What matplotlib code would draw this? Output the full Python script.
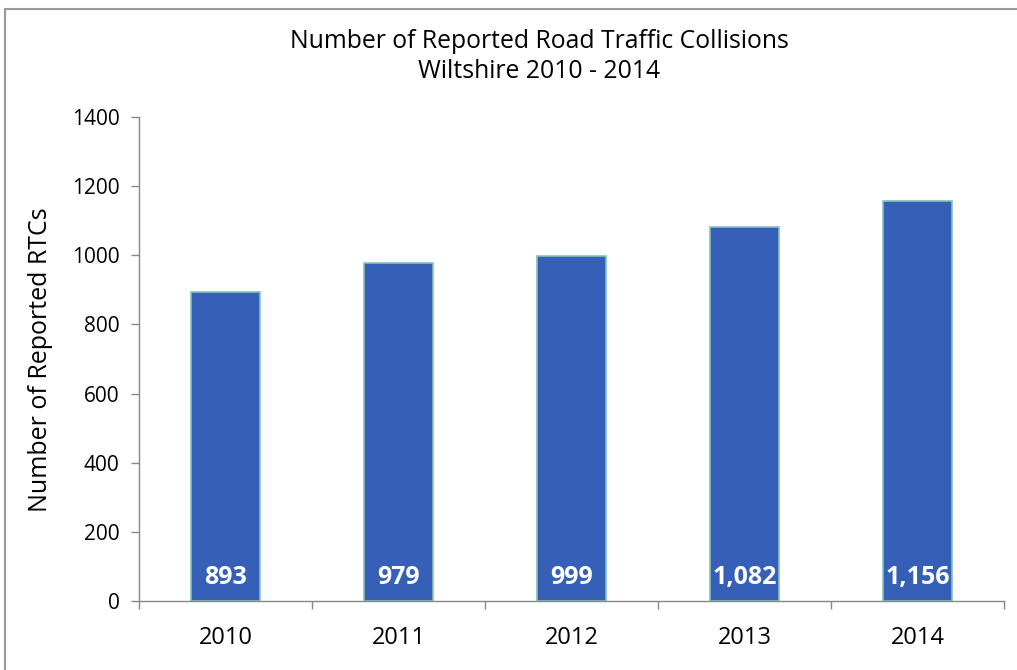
import matplotlib.pyplot as plt
from matplotlib.patches import Rectangle

# dados do grafico
anos = ['2010', '2011', '2012', '2013', '2014']
colisoes = [893, 979, 999, 1082, 1156]
rotulos = ['893', '979', '999', '1,082', '1,156']

plt.rcParams['font.family'] = ['Open Sans', 'DejaVu Sans']

fig = plt.figure(figsize=(10.17, 6.70), dpi=100)
ax = fig.add_axes([139 / 1017, 1 - 601 / 670, (1004 - 139) / 1017, (601 - 117) / 670])

posicoes = list(range(len(anos)))
ax.bar(posicoes, colisoes, width=0.4, color='#365FB7', edgecolor='#86C3B5', linewidth=1.2, zorder=2)

# rotulos brancos na base das barras
for x, r in zip(posicoes, rotulos):
    ax.annotate(r, (x, 0), xytext=(0, 17), textcoords='offset points',
                ha='center', va='center', color='white', fontsize=18, fontweight='bold', zorder=3)

ax.set_xlim(-0.5, len(anos) - 0.5)
ax.set_ylim(0, 1400)
ax.set_yticks(range(0, 1401, 200))
ax.set_xticks(posicoes)
ax.set_xticklabels(anos, fontsize=17)
ax.set_xticks([p - 0.5 for p in posicoes] + [len(anos) - 0.5], minor=True)
ax.tick_params(axis='x', which='major', length=0, pad=18)
ax.tick_params(axis='x', which='minor', length=6, color='#888888', width=1)
ax.tick_params(axis='y', length=6, color='#888888', width=1, labelsize=15, pad=8)

for lado in ['top', 'right']:
    ax.spines[lado].set_visible(False)
for lado in ['left', 'bottom']:
    ax.spines[lado].set_color('#888888')
    ax.spines[lado].set_linewidth(1)

ax.set_ylabel('Number of Reported RTCs', fontsize=18)
ax.yaxis.set_label_coords(53 / 1017, 1 - 360 / 670, transform=fig.transFigure)

fig.text(539 / 1017, 1 - 42 / 670, 'Number of Reported Road Traffic Collisions', ha='center', va='center', fontsize=17.8)
fig.text(539 / 1017, 1 - 72 / 670, 'Wiltshire 2010 - 2014', ha='center', va='center', fontsize=17.8)

# moldura cinza (cortada a direita e embaixo)
fig.patches.append(Rectangle((5 / 1017, -0.1), 1.2, 1.1 - 9 / 670, transform=fig.transFigure,
                             fill=False, edgecolor='#999999', linewidth=1.5))

fig.savefig('out.png', dpi=100)
